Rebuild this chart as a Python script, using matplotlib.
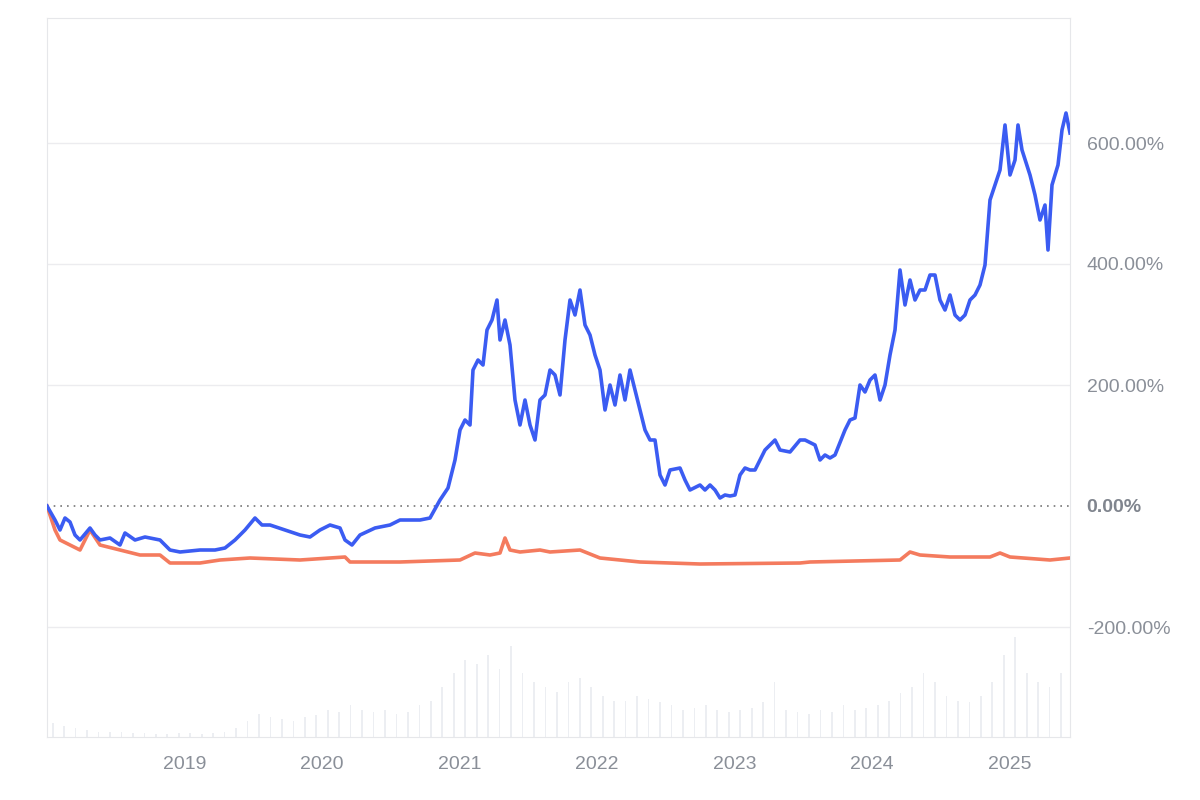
import matplotlib
matplotlib.use("Agg")
import matplotlib.pyplot as plt
import numpy as np

plt.rcParams["font.family"] = "Liberation Sans"

# blue series: (pixel-x derived) years and % values
blue_x = [47,55,60,65,70,75,80,90,95,100,110,120,125,135,145,160,170,180,200,215,225,235,245,255,262,270,285,300,310,320,330,340,345,352,360,375,390,400,410,420,430,440,448,455,460,465,470,473,478,483,487,492,497,500,505,510,515,520,525,530,535,540,545,550,555,560,565,570,575,580,585,590,595,600,605,610,615,620,625,630,635,640,645,650,655,660,665,670,680,685,690,700,705,710,715,720,725,730,735,740,745,750,755,760,765,770,775,780,790,800,805,815,820,825,830,835,845,850,855,860,865,870,875,880,885,890,895,900,905,910,915,920,925,930,935,940,945,950,955,960,965,970,975,980,985,990,995,1000,1005,1010,1015,1018,1022,1030,1035,1040,1045,1048,1052,1058,1062,1066,1070]
blue_y = [506,520,530,518,522,535,540,528,535,540,538,545,533,540,537,540,550,552,550,550,548,540,530,518,525,525,530,535,537,530,525,528,540,545,535,528,525,520,520,520,518,500,488,460,430,420,425,370,360,365,330,320,300,340,320,345,400,425,400,425,440,400,395,370,375,395,340,300,315,290,325,335,355,370,410,385,405,375,400,370,390,410,430,440,440,475,485,470,468,480,490,485,490,485,490,498,495,496,495,475,468,470,470,460,450,445,440,450,452,440,440,445,460,455,458,455,430,420,418,385,392,380,375,400,385,355,330,270,305,280,300,290,290,275,275,300,310,295,315,320,315,300,295,285,265,200,185,170,125,175,160,125,150,175,195,220,205,250,185,165,130,113,133]
red_x = [47,55,60,70,80,90,100,120,140,160,170,200,220,250,300,345,350,400,460,475,490,500,505,510,520,540,550,580,600,640,700,800,810,900,910,920,950,990,1000,1010,1050,1070]
red_y = [506,530,540,545,550,530,545,550,555,555,563,563,560,558,560,557,562,562,560,553,555,553,538,550,552,550,552,550,558,562,564,563,562,560,552,555,557,557,553,557,560,558]

def px2year(x): return 2018 + (np.asarray(x) - 47) / 137.5
def py2pct(y): return (506 - np.asarray(y)) / 0.605

# monthly volume, Jan 2018 .. May 2025 (relative units)
volume = [15,12,10,8,6,5,5,4,4,3,3,4,4,3,4,6,10,18,25,22,20,18,22,24,30,28,35,30,28,30,25,28,35,40,55,70,85,80,90,75,100,70,60,55,50,60,65,55,45,40,40,45,42,38,35,30,32,35,30,28,30,32,38,60,30,28,25,30,28,35,30,32,35,40,48,55,70,60,45,40,38,45,60,90,110,70,60,55,70,75,65]
vol_x = 2018 + np.arange(len(volume)) / 12 + 1/24

years = px2year(blue_x); bvals = py2pct(blue_y)
ryears = px2year(red_x); rvals = py2pct(red_y)

fig = plt.figure(figsize=(12, 8), dpi=100)
ax = fig.add_axes([47/1200, 63/800, 1023/1200, 719/800])
ax.set_xlim(2018.0, px2year(1070))
ax.set_ylim(py2pct(737), py2pct(18))

axv = ax.twinx()
axv.bar(vol_x[:len(volume)], volume, width=0.012, color="#eceef2", zorder=0)
axv.set_ylim(0, 110 * 719 / 100)
axv.axis("off")
ax.set_zorder(axv.get_zorder() + 1)
ax.patch.set_visible(False)

for v in [600, 400, 200, -200]:
    ax.axhline(v, color="#ececef", lw=1, zorder=1)
ax.axhline(0, color="#777", lw=1.2, ls=(0, (1, 3)), zorder=2)

ax.plot(ryears, rvals, color="#f47b5e", lw=2.6, zorder=3)
ax.plot(years, bvals, color="#3b5cf2", lw=2.6, zorder=4)

for s in ax.spines.values():
    s.set_color("#e6e7ea")
for s in axv.spines.values():
    s.set_visible(False)

ax.yaxis.tick_right()
ax.set_yticks([600, 400, 200, 0, -200])
ax.set_yticklabels(["600.00%", "400.00%", "200.00%", "0.00%", "-200.00%"])
ax.tick_params(axis="y", length=0, pad=12, labelsize=14, labelcolor="#8a8f98")
ax.get_yticklabels()[3].set_fontweight("bold")
ax.get_yticklabels()[3].set_color("#80858e")
ax.set_xticks(range(2019, 2026))
ax.set_xticklabels([str(y) for y in range(2019, 2026)])
ax.tick_params(axis="x", length=0, pad=14, labelsize=14, labelcolor="#8a8f98")

fig.savefig("out.png", dpi=100)
